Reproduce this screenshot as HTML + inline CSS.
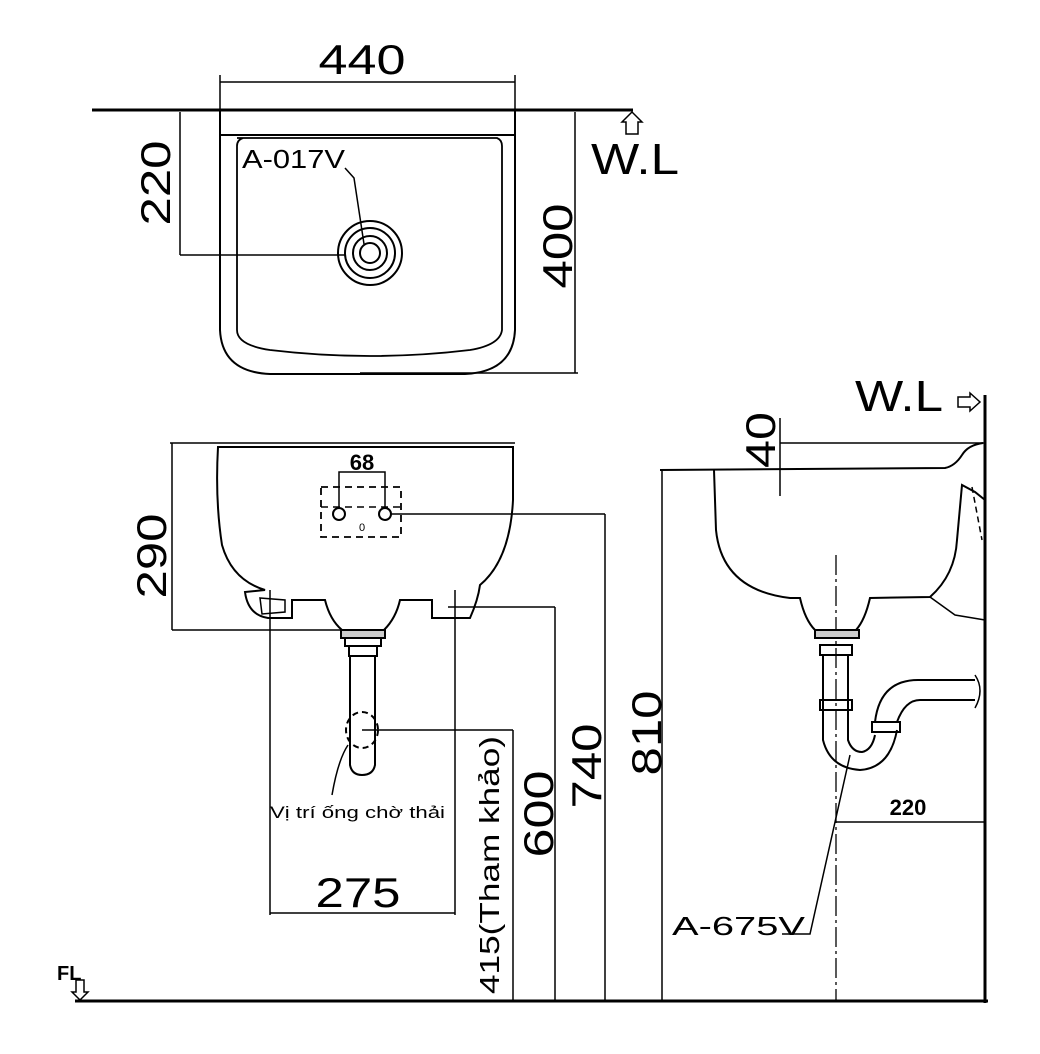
<!DOCTYPE html>
<html><head><meta charset="utf-8"><style>
html,body{margin:0;padding:0;background:#fff;width:1040px;height:1054px;overflow:hidden}
svg{display:block}
text{font-family:"Liberation Sans",sans-serif;fill:#000}
</style></head><body>
<svg width="1040" height="1054" viewBox="0 0 1040 1054" fill="none" stroke="#000" stroke-width="2">
<!-- TOP VIEW -->
<line x1="92" y1="110" x2="633" y2="110" stroke-width="3"/>
<line x1="220" y1="75" x2="220" y2="135" stroke-width="1.5"/>
<line x1="515" y1="75" x2="515" y2="135" stroke-width="1.5"/>
<line x1="220" y1="82" x2="515" y2="82" stroke-width="1.5"/>
<text x="362" y="74" font-size="42" text-anchor="middle" stroke="none" textLength="87" lengthAdjust="spacingAndGlyphs">440</text>
<path d="M220 135 L515 135 M220 110 L220 330 Q222 372 270 374 L465 374 Q513 372 515 330 L515 110"/>
<path d="M237 138 L497 138 Q502 140 502 146 L502 330 Q500 345 470 350 Q370 362 270 350 Q237 345 237 330 L237 146 Q237 140 243 138" stroke-width="1.8"/>
<circle cx="370" cy="253" r="32"/><circle cx="370" cy="253" r="25"/><circle cx="370" cy="253" r="17"/><circle cx="370" cy="253" r="10"/>
<line x1="180" y1="112" x2="180" y2="255" stroke-width="1.5"/>
<line x1="180" y1="255" x2="345" y2="255" stroke-width="1.5"/>
<text transform="translate(170,183) rotate(-90)" font-size="42" text-anchor="middle" stroke="none" textLength="85" lengthAdjust="spacingAndGlyphs">220</text>
<line x1="575" y1="112" x2="575" y2="373" stroke-width="1.5"/>
<line x1="360" y1="373" x2="578" y2="373" stroke-width="1.5"/>
<text transform="translate(572,246) rotate(-90)" font-size="42" text-anchor="middle" stroke="none" textLength="85" lengthAdjust="spacingAndGlyphs">400</text>
<text x="591" y="174" font-size="44" stroke="none" textLength="88" lengthAdjust="spacingAndGlyphs">W.L</text>
<path d="M626 134 L626 122 L622 122 L632 112 L642 122 L638 122 L638 134 Z" stroke-width="1.5"/>
<text x="242" y="168" font-size="26" stroke="none" textLength="103" lengthAdjust="spacingAndGlyphs">A-017V</text>
<path d="M345 168 L354 178 L364 244" stroke-width="1.5"/>
<!-- FRONT VIEW -->
<line x1="170" y1="443" x2="515" y2="443" stroke-width="1.5"/>
<path d="M218 447 Q215 500 222 545 Q232 580 265 590 L245 592 Q248 615 268 618 L292 618 L292 600 L325 600 Q330 620 342 630 L384 630 Q396 618 400 600 L432 600 L432 618 L470 618 Q478 600 480 585 Q510 560 513 500 L513 447 Z"/>
<path d="M260 598 L285 600 L285 612 L262 614 Z" stroke-width="1.5"/>
<rect x="321" y="487" width="80" height="50" stroke-dasharray="7,5" stroke-width="1.8"/>
<line x1="321" y1="507" x2="401" y2="507" stroke-dasharray="7,5" stroke-width="1.5"/>
<circle cx="339" cy="514" r="6"/><circle cx="385" cy="514" r="6"/>
<path d="M339 508 L339 472 L385 472 L385 508" stroke-width="1.5"/>
<text x="362" y="470" font-size="22" font-weight="bold" text-anchor="middle" stroke="none">68</text>
<text x="362" y="531" font-size="11" text-anchor="middle" stroke="none">0</text>
<line x1="172" y1="443" x2="172" y2="630" stroke-width="1.5"/>
<line x1="172" y1="630" x2="340" y2="630" stroke-width="1.5"/>
<text transform="translate(166,556) rotate(-90)" font-size="42" text-anchor="middle" stroke="none" textLength="85" lengthAdjust="spacingAndGlyphs">290</text>
<rect x="341" y="630" width="44" height="8" fill="#ccc"/>
<rect x="345" y="638" width="36" height="8"/>
<rect x="349" y="646" width="28" height="10"/>
<path d="M350 656 L350 765 Q352 775 362 775 Q373 775 375 765 L375 656"/>
<ellipse cx="362" cy="730" rx="16" ry="18" stroke-dasharray="6,4"/>
<line x1="270" y1="590" x2="270" y2="915" stroke-width="1.5"/>
<line x1="455" y1="590" x2="455" y2="915" stroke-width="1.5"/>
<line x1="270" y1="913" x2="455" y2="913" stroke-width="1.5"/>
<text x="358" y="907" font-size="42" text-anchor="middle" stroke="none" textLength="85" lengthAdjust="spacingAndGlyphs">275</text>
<line x1="391" y1="514" x2="605" y2="514" stroke-width="1.5"/>
<line x1="605" y1="514" x2="605" y2="1000" stroke-width="1.5"/>
<text transform="translate(601,766) rotate(-90)" font-size="42" text-anchor="middle" stroke="none" textLength="85" lengthAdjust="spacingAndGlyphs">740</text>
<line x1="448" y1="607" x2="555" y2="607" stroke-width="1.5"/>
<line x1="555" y1="607" x2="555" y2="1000" stroke-width="1.5"/>
<text transform="translate(553,814) rotate(-90)" font-size="42" text-anchor="middle" stroke="none" textLength="87" lengthAdjust="spacingAndGlyphs">600</text>
<line x1="362" y1="730" x2="513" y2="730" stroke-width="1.5"/>
<line x1="513" y1="730" x2="513" y2="1000" stroke-width="1.5"/>
<text transform="translate(499,865) rotate(-90)" font-size="28" text-anchor="middle" stroke="none" textLength="258" lengthAdjust="spacingAndGlyphs">415(Tham khảo)</text>
<path d="M332 795 Q338 760 348 745" stroke-width="1.5"/>
<text x="270" y="818" font-size="17" stroke="none" textLength="175" lengthAdjust="spacingAndGlyphs">Vị trí ống chờ thải</text>
<!-- FLOOR -->
<line x1="75" y1="1001" x2="988" y2="1001" stroke-width="3"/>
<text x="57" y="980" font-size="20" font-weight="bold" stroke="none">FL</text>
<path d="M76 980 L76 992 L72 992 L80 1000 L88 992 L84 992 L84 980 Z" stroke-width="1.5"/>
<!-- SIDE VIEW -->
<line x1="985" y1="395" x2="985" y2="1003" stroke-width="3"/>
<text x="855" y="411" font-size="44" stroke="none" textLength="88" lengthAdjust="spacingAndGlyphs">W.L</text>
<path d="M958 397 L970 397 L970 393 L980 402 L970 411 L970 407 L958 407 Z" stroke-width="1.5"/>
<line x1="780" y1="443" x2="985" y2="443" stroke-width="1.5"/>
<path d="M660 470 L945 468 Q955 466 962 455 Q968 445 983 443"/>
<line x1="780" y1="418" x2="780" y2="496" stroke-width="1.5"/>
<text transform="translate(775,440) rotate(-90)" font-size="42" text-anchor="middle" stroke="none" textLength="56" lengthAdjust="spacingAndGlyphs">40</text>
<line x1="662" y1="470" x2="662" y2="1000" stroke-width="1.5"/>
<text transform="translate(661,733) rotate(-90)" font-size="42" text-anchor="middle" stroke="none" textLength="85" lengthAdjust="spacingAndGlyphs">810</text>
<path d="M714 470 L716 530 Q722 590 790 598 L800 598 Q805 620 815 630 L856 630 Q865 620 870 598 L930 597 Q955 575 957 540 L962 485 L975 492 L985 500"/>
<path d="M972 487 L982 540" stroke-dasharray="6,4" stroke-width="1.5"/>
<path d="M930 597 L955 615 L985 620" stroke-width="1.5"/>
<line x1="836" y1="555" x2="836" y2="1000" stroke-dasharray="20,4,3,4" stroke-width="1.3"/>
<rect x="815" y="630" width="44" height="8" fill="#ccc"/>
<rect x="820" y="645" width="32" height="10"/>
<rect x="820" y="700" width="32" height="10"/>
<path d="M823 655 L823 740 Q830 768 860 770 Q890 768 897 730"/>
<path d="M848 655 L848 740 Q852 752 862 752 Q872 750 875 735"/>
<rect x="872" y="722" width="28" height="10"/>
<path d="M875 722 Q880 680 918 680 L975 680 M897 722 Q905 700 920 700 L975 700"/>
<path d="M975 675 Q985 690 975 708" stroke-width="1.5"/>
<line x1="835" y1="822" x2="985" y2="822" stroke-width="1.5"/>
<text x="908" y="815" font-size="22" font-weight="bold" text-anchor="middle" stroke="none">220</text>
<text x="672" y="935" font-size="26" stroke="none" textLength="133" lengthAdjust="spacingAndGlyphs">A-675V</text>
<path d="M782 934 L810 934 L850 755" stroke-width="1.5"/>
</svg>
</body></html>
